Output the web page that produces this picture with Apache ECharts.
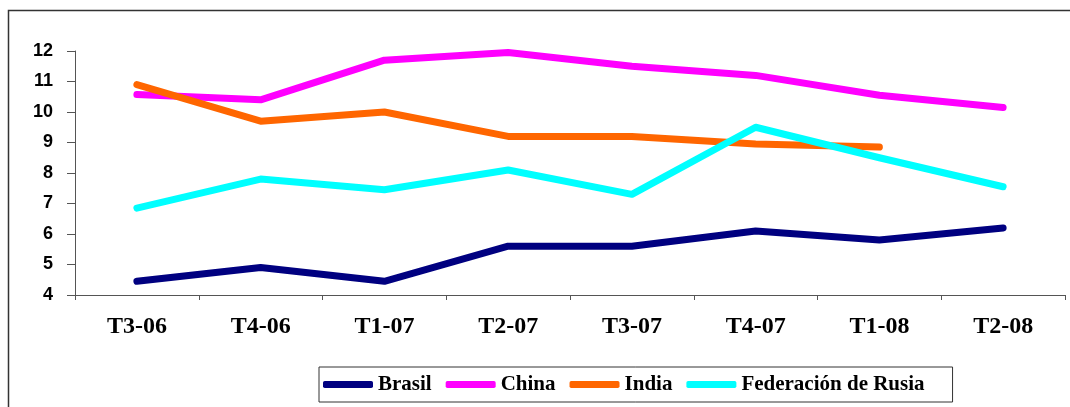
<!DOCTYPE html>
<html>
<head>
<meta charset="utf-8">
<script src="https://cdn.jsdelivr.net/npm/echarts@6/dist/echarts.min.js"></script>
<style>
  html, body { margin: 0; padding: 0; background: #fff; }
  #chart { width: 1070px; height: 407px; }
</style>
</head>
<body>
<div id="chart"></div>
<script>
// quarters on the x axis
var categories = ['T3-06', 'T4-06', 'T1-07', 'T2-07', 'T3-07', 'T4-07', 'T1-08', 'T2-08'];

var brasil = [4.45, 4.9, 4.45, 5.6, 5.6, 6.1, 5.8, 6.2];
var china = [10.57, 10.4, 11.7, 11.95, 11.5, 11.2, 10.55, 10.15];
var india = [10.9, 9.7, 10.0, 9.2, 9.2, 8.95, 8.85, null];
var rusia = [6.85, 7.8, 7.45, 8.1, 7.3, 9.5, 8.5, 7.55];

var seriesNames = ['Brasil', 'China', 'India', 'Federación de Rusia'];
var seriesColors = ['#000080', '#ff00ff', '#ff6600', '#00ffff'];

var chart = echarts.init(document.getElementById('chart'));

function mkLine(name, data, color) {
  return {
    name: name,
    type: 'line',
    data: data,
    symbol: 'none',
    color: color,
    lineStyle: { width: 7, color: color, cap: 'round', join: 'round' },
    connectNulls: false
  };
}

var option = {
  animation: false,
  backgroundColor: '#fff',
  graphic: [{
    type: 'rect',
    shape: { x: 8.5, y: 10.5, width: 1200, height: 600 },
    style: { fill: 'none', stroke: '#333', lineWidth: 1.5 },
    silent: true
  }],
  grid: { left: 75, right: 5, top: 51, bottom: 112 },
  legend: {
    left: 319,
    top: 367,
    data: seriesNames,
    icon: 'roundRect',
    itemWidth: 50,
    itemHeight: 7,
    itemGap: 14,
    padding: [7, 28, 7, 4],
    borderColor: '#333',
    borderWidth: 1,
    textStyle: {
      fontFamily: 'Liberation Serif',
      fontWeight: 'bold',
      fontSize: 21,
      color: '#000',
      padding: [6, 0, 0, 0]
    }
  },
  xAxis: {
    type: 'category',
    data: categories,
    boundaryGap: true,
    axisLine: { lineStyle: { color: '#555', width: 1 } },
    axisTick: { show: true, length: 5, lineStyle: { color: '#555' } },
    axisLabel: {
      margin: 20,
      fontFamily: 'Liberation Serif',
      fontWeight: 'bold',
      fontSize: 24,
      color: '#000'
    },
    splitLine: { show: false }
  },
  yAxis: {
    type: 'value',
    min: 4,
    max: 12,
    interval: 1,
    axisLine: { show: true, lineStyle: { color: '#555', width: 1 } },
    axisTick: { show: true, length: 8, lineStyle: { color: '#555' } },
    axisLabel: {
      margin: 22,
      fontFamily: 'Liberation Sans',
      fontWeight: 'bold',
      fontSize: 18,
      color: '#000'
    },
    splitLine: { show: false }
  },
  series: [
    mkLine(seriesNames[0], brasil, seriesColors[0]),
    mkLine(seriesNames[1], china, seriesColors[1]),
    mkLine(seriesNames[2], india, seriesColors[2]),
    mkLine(seriesNames[3], rusia, seriesColors[3])
  ]
};

chart.setOption(option);
</script>
</body>
</html>
